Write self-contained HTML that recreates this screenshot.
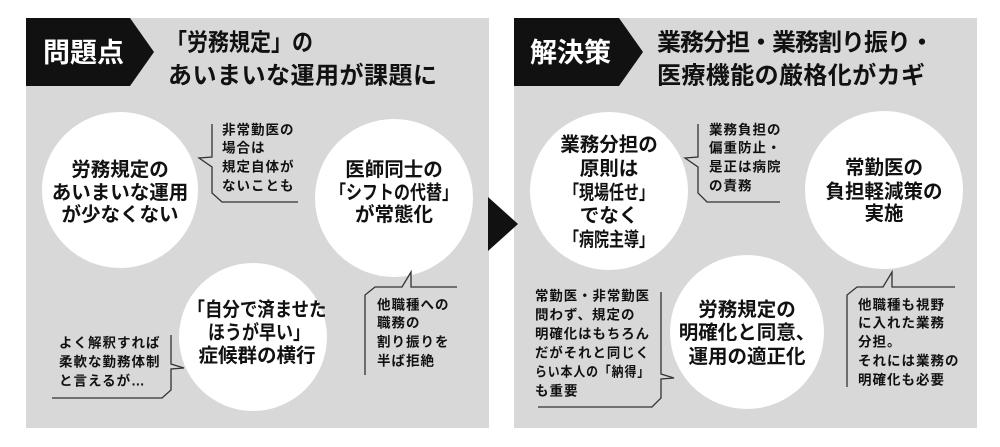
<!DOCTYPE html>
<html><head><meta charset="utf-8"><style>
html,body{margin:0;padding:0;background:#fff;}
svg{display:block;}
text{font-family:"Liberation Sans","Noto Sans CJK JP",sans-serif;font-weight:bold;fill:#111;}
.t{font-size:19.5px;text-anchor:middle;dominant-baseline:central;}
.s{font-size:13.5px;dominant-baseline:central;letter-spacing:1px;}
.h{font-size:24px;dominant-baseline:central;}
.w{fill:#fff;font-size:27px;dominant-baseline:central;}
.l{fill:none;stroke:#333;stroke-width:1.3;}
</style></head><body>
<svg width="1000" height="447" viewBox="0 0 1000 447">
<rect x="0" y="0" width="1000" height="447" fill="#fff"/>
<rect x="26" y="18" width="463" height="410" fill="#d8d8d8"/>
<rect x="514" y="18" width="463" height="410" fill="#d8d8d8"/>
<polygon points="26,18 130,18 154,52 130,86 26,86" fill="#111"/>
<polygon points="514,18 619,18 643,52 619,86 514,86" fill="#111"/>
<polygon points="488,197 518,224 488,251" fill="#111"/>
<text class="w" x="43" y="53">問題点</text>
<text class="w" x="530" y="53">解決策</text>
<text class="h" x="166" y="43" textLength="147" lengthAdjust="spacingAndGlyphs">「労務規定」の</text>
<text class="h" x="168" y="76" textLength="269">あいまいな運用が課題に</text>
<text class="h" x="657" y="43" textLength="277">業務分担・業務割り振り・</text>
<text class="h" x="657" y="76" textLength="268">医療機能の厳格化がカギ</text>

<circle cx="120" cy="190" r="78" fill="#fff"/>
<circle cx="394" cy="198" r="79" fill="#fff"/>
<circle cx="253" cy="337" r="74" fill="#fff"/>
<circle cx="609" cy="191" r="79" fill="#fff"/>
<circle cx="884" cy="190" r="79" fill="#fff"/>
<circle cx="747" cy="332" r="77" fill="#fff"/>

<text class="t" x="120" y="170">労務規定の</text>
<text class="t" x="120" y="193">あいまいな運用</text>
<text class="t" x="120" y="215">が少なくない</text>
<text class="t" x="394" y="170">医師同士の</text>
<text class="t" x="394" y="193" textLength="128" lengthAdjust="spacingAndGlyphs">「シフトの代替」</text>
<text class="t" x="394" y="215">が常態化</text>
<text class="t" x="257" y="310" textLength="139" lengthAdjust="spacingAndGlyphs">「自分で済ませた</text>
<text class="t" x="259" y="333" textLength="102" lengthAdjust="spacingAndGlyphs">ほうが早い」</text>
<text class="t" x="257" y="356">症候群の横行</text>
<text class="t" x="609" y="145">業務分担の</text>
<text class="t" x="609" y="169">原則は</text>
<text class="t" x="609" y="193" textLength="90" lengthAdjust="spacingAndGlyphs">「現場任せ」</text>
<text class="t" x="609" y="216">でなく</text>
<text class="t" x="609" y="240" textLength="90" lengthAdjust="spacingAndGlyphs">「病院主導」</text>
<text class="t" x="884" y="168">常勤医の</text>
<text class="t" x="884" y="192">負担軽減策の</text>
<text class="t" x="884" y="214">実施</text>
<text class="t" x="747" y="310">労務規定の</text>
<text class="t" x="747" y="333">明確化と同意、</text>
<text class="t" x="747" y="357">運用の適正化</text>

<polyline class="l" points="212,124 212,157 199,158 212,167 212,193 222,202 298,202"/>
<text class="s" x="222" y="130">非常勤医の</text>
<text class="s" x="222" y="148">場合は</text>
<text class="s" x="222" y="167">規定自体が</text>
<text class="s" x="222" y="186">ないことも</text>

<polyline class="l" points="365,375 365,295 375,287 402,287 411,272 411,287 457,287"/>
<text class="s" x="377" y="305">他職種への</text>
<text class="s" x="377" y="323">職務の</text>
<text class="s" x="377" y="342">割り振りを</text>
<text class="s" x="377" y="361">半ば拒絶</text>

<polyline class="l" points="52,398 162,398 171,390 171,369 184,368 171,364 171,335"/>
<text class="s" x="59" y="343">よく解釈すれば</text>
<text class="s" x="59" y="362">柔軟な勤務体制</text>
<text class="s" x="59" y="381">と言えるが…</text>

<polyline class="l" points="698,124 698,157 685,158 698,167 698,193 707,202 780,202"/>
<text class="s" x="709" y="130">業務負担の</text>
<text class="s" x="709" y="148">偏重防止・</text>
<text class="s" x="709" y="167">是正は病院</text>
<text class="s" x="709" y="186">の責務</text>

<polyline class="l" points="847,387 847,295 857,287 883,287 892,272 892,287 955,287"/>
<text class="s" x="858" y="305">他職種も視野</text>
<text class="s" x="858" y="323">に入れた業務</text>
<text class="s" x="858" y="342">分担。</text>
<text class="s" x="858" y="361">それには業務の</text>
<text class="s" x="858" y="380">明確化も必要</text>

<polyline class="l" points="538,407 652,407 661,398 661,379 674,378 661,374 661,292"/>
<text class="s" x="535" y="296" textLength="115" lengthAdjust="spacingAndGlyphs">常勤医・非常勤医</text>
<text class="s" x="535" y="315">問わず、規定の</text>
<text class="s" x="535" y="334" textLength="115" lengthAdjust="spacingAndGlyphs">明確化はもちろん</text>
<text class="s" x="535" y="353" textLength="115" lengthAdjust="spacingAndGlyphs">だがそれと同じく</text>
<text class="s" x="535" y="372" textLength="115" lengthAdjust="spacingAndGlyphs">らい本人の「納得」</text>
<text class="s" x="535" y="391">も重要</text>
</svg>
</body></html>
